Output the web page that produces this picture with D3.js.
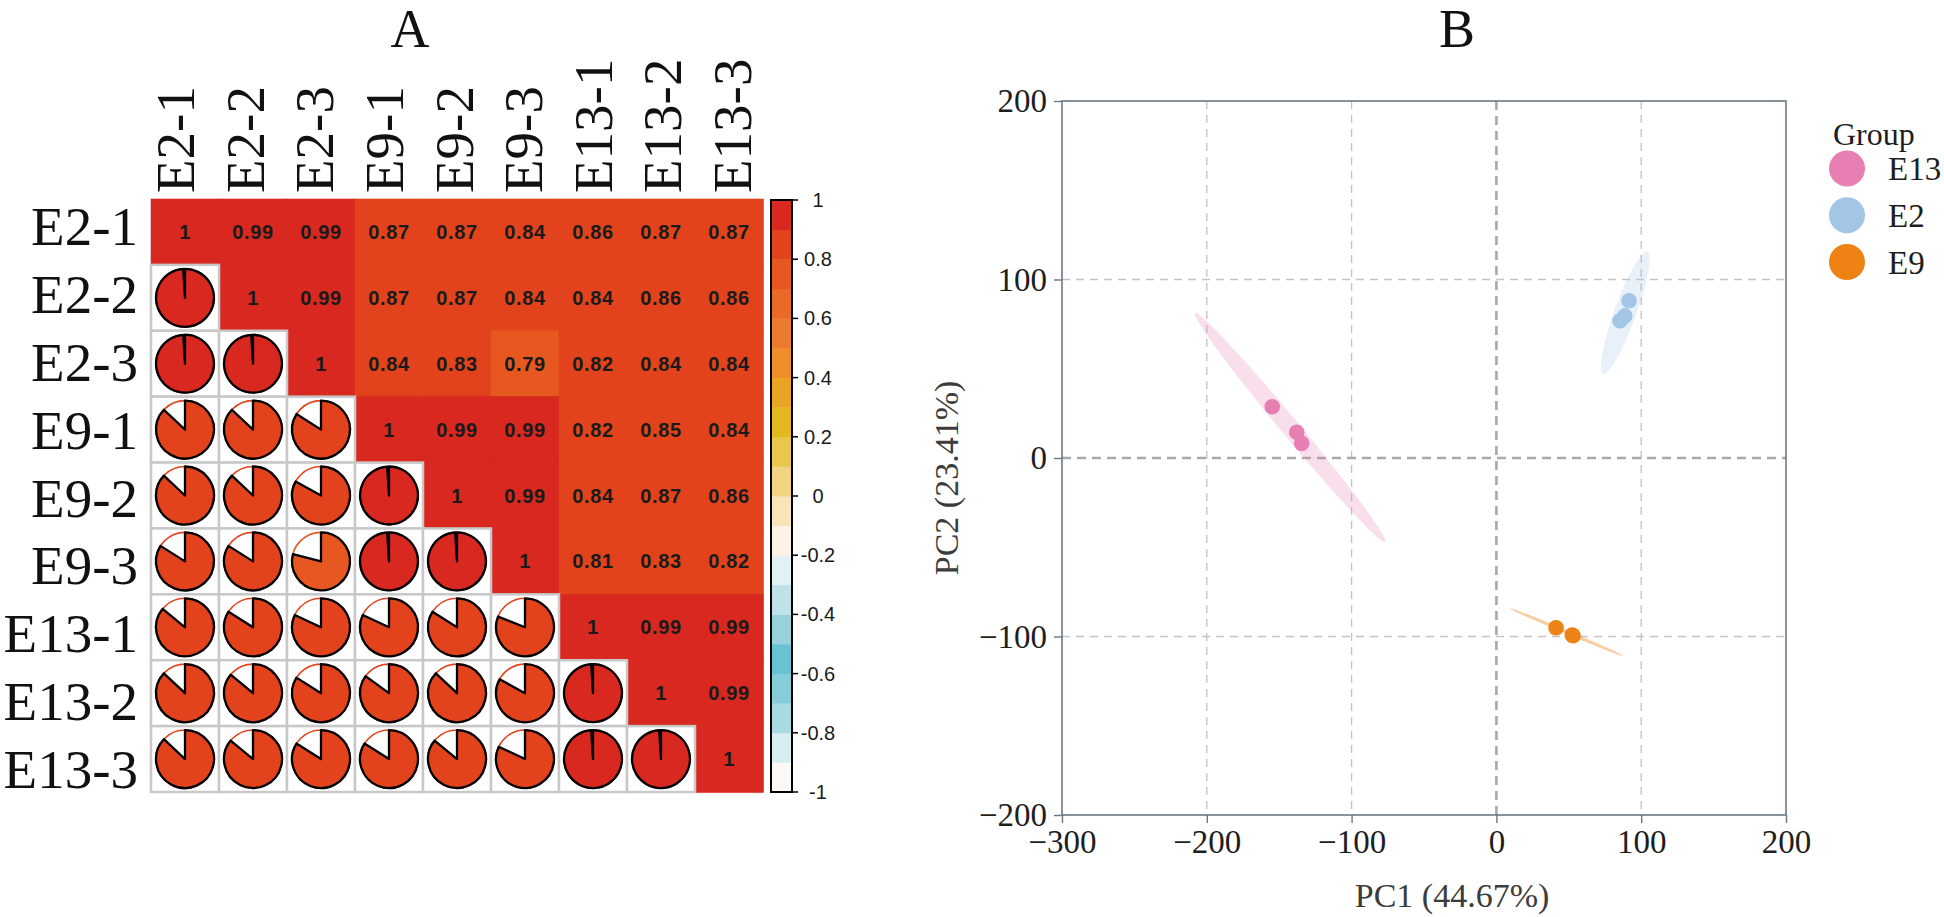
<!DOCTYPE html>
<html>
<head>
<meta charset="utf-8">
<script src="https://cdn.jsdelivr.net/npm/d3@7/dist/d3.min.js"></script>
<style>
  html, body { margin: 0; padding: 0; background: #fff; }
  svg { display: block; }
</style>
</head>
<body>
<svg id="chart" width="1944" height="917"></svg>
<script>
// ---------------- DATA ----------------
const samples = ["E2-1","E2-2","E2-3","E9-1","E9-2","E9-3","E13-1","E13-2","E13-3"];
// upper triangle of the correlation matrix, row i starts at the diagonal
const corrUpper = [
  [1, 0.99, 0.99, 0.87, 0.87, 0.84, 0.86, 0.87, 0.87],
  [1, 0.99, 0.87, 0.87, 0.84, 0.84, 0.86, 0.86],
  [1, 0.84, 0.83, 0.79, 0.82, 0.84, 0.84],
  [1, 0.99, 0.99, 0.82, 0.85, 0.84],
  [1, 0.99, 0.84, 0.87, 0.86],
  [1, 0.81, 0.83, 0.82],
  [1, 0.99, 0.99],
  [1, 0.99],
  [1]
];
const cbTicks = [1, 0.8, 0.6, 0.4, 0.2, 0, -0.2, -0.4, -0.6, -0.8, -1];
const cbTickLabels = ["1", "0.8", "0.6", "0.4", "0.2", "0", "-0.2", "-0.4", "-0.6", "-0.8", "-1"];
// colour bins from -1 to 1, step 0.1
const cbColors = [
  "#FCF8F6", "#D6EDF1", "#A9DAE2", "#85CDD8", "#67C2D1",
  "#97D2DC", "#BEE2E8", "#E2F1F3", "#FDF2E4", "#F9E3B8",
  "#F1D382", "#E8C74A", "#E4B91E", "#EAA424", "#EE8F2C",
  "#EC7B2D", "#E96A28", "#E6581F", "#E2431C", "#D8281F"
];

// PCA
const groups = ["E13", "E2", "E9"];
const pcaSample = ["E13-1","E13-2","E13-3","E2-1","E2-2","E2-3","E9-1","E9-2","E9-3"];
const pcaGroup  = ["E13","E13","E13","E2","E2","E2","E9","E9","E9"];
const pc1 = [-154.8, -137.9, -134.5, 91.6, 88.7, 85.4, 41.2, 52.4, 52.9];
const pc2 = [28.7, 14.4, 8.2, 88.1, 79.6, 76.9, -95.1, -99.2, -99.6];
// confidence ellipses: major-axis end points (PC1, PC2) and minor/major ratio
const ellipseEnd1 = [[-208.1, 81.1], [104.2, 115.6], [9.4, -84.2]];
const ellipseEnd2 = [[-76.9, -46.9], [73.8, 47.4], [87.6, -110.9]];
const ellipseRatio = [0.06, 0.17, 0.03];
const xTicks = [-300, -200, -100, 0, 100, 200];
const yTicks = [-200, -100, 0, 100, 200];

// ---------------- STYLE ----------------
const serif = "'Liberation Serif', 'Times New Roman', serif";
const sans = "'Liberation Sans', Arial, sans-serif";
const groupColors = ["#E77FB3", "#A3C6E7", "#EE8215"];

const svg = d3.select("#chart");

// ================= PANEL A =================
const n = samples.length;
const corr = samples.map(() => new Array(n).fill(null));
corrUpper.forEach((row, i) => row.forEach((v, k) => {
  const j = i + k;
  corr[i][j] = v; corr[j][i] = v;
}));

const xA = d3.scaleBand().domain(samples).range([151, 763]);
const yA = d3.scaleBand().domain(samples).range([199, 792]);
const colorA = d3.scaleQuantize().domain([-1, 1]).range(cbColors);

const gA = svg.append("g");

const cells = [];
for (let i = 0; i < n; i++) for (let j = 0; j < n; j++) {
  cells.push({ r: samples[i], c: samples[j], i, j, v: corr[i][j] });
}
const upper = cells.filter(d => d.j >= d.i);
const lower = cells.filter(d => d.j < d.i);

gA.selectAll("rect.up").data(upper).join("rect")
  .attr("x", d => xA(d.c)).attr("y", d => yA(d.r))
  .attr("width", xA.bandwidth() + 0.5).attr("height", yA.bandwidth() + 0.5)
  .attr("fill", d => colorA(d.v)).attr("stroke", d => colorA(d.v)).attr("stroke-width", 0.6);

gA.selectAll("text.val").data(upper).join("text")
  .attr("x", d => xA(d.c) + xA.bandwidth() / 2)
  .attr("y", d => yA(d.r) + yA.bandwidth() / 2)
  .attr("text-anchor", "middle").attr("dominant-baseline", "central")
  .attr("font-family", sans).attr("font-weight", "bold").attr("font-size", 20)
  .attr("letter-spacing", 0.6)
  .attr("fill", "#1a1a1a")
  .text(d => d3.format("")(d.v));

gA.selectAll("rect.low").data(lower).join("rect")
  .attr("x", d => xA(d.c)).attr("y", d => yA(d.r))
  .attr("width", xA.bandwidth()).attr("height", yA.bandwidth())
  .attr("fill", "#fff").attr("stroke", "#c8c8c8").attr("stroke-width", 2.5);

const pieR = 29;
const arc = d3.arc().innerRadius(0).outerRadius(pieR).startAngle(0);
const pies = gA.selectAll("g.pie").data(lower).join("g")
  .attr("transform", d => `translate(${xA(d.c) + xA.bandwidth() / 2},${yA(d.r) + yA.bandwidth() / 2})`);
pies.append("circle").attr("r", pieR).attr("fill", "#fff")
  .attr("stroke", d => colorA(d.v)).attr("stroke-width", 1.6);
pies.append("path")
  .attr("d", d => arc({ endAngle: 2 * Math.PI * d.v }))
  .attr("fill", d => colorA(d.v)).attr("stroke", "#000").attr("stroke-width", 2.3)
  .attr("stroke-linejoin", "round");

// labels
const rowLab = d3.scalePoint().domain(samples).range([245, 788]);
const colLab = d3.scalePoint().domain(samples).range([194, 751]);
gA.selectAll("text.rl").data(samples).join("text")
  .attr("x", 138).attr("y", d => rowLab(d))
  .attr("text-anchor", "end").attr("font-family", serif).attr("font-size", 55)
  .attr("fill", "#111").text(d => d);
gA.selectAll("text.cl").data(samples).join("text")
  .attr("transform", d => `translate(${colLab(d)},193) rotate(-90)`)
  .attr("text-anchor", "start").attr("font-family", serif).attr("font-size", 55)
  .attr("fill", "#111").text(d => d);

// colour bar
const cbY = d3.scaleLinear().domain([-1, 1]).range([792, 200]);
const cbBins = cbColors.map((c, k) => ({ c, lo: -1 + k * 0.1, hi: -1 + (k + 1) * 0.1 }));
gA.selectAll("rect.cb").data(cbBins).join("rect")
  .attr("x", 771).attr("width", 21)
  .attr("y", d => cbY(d.hi)).attr("height", d => cbY(d.lo) - cbY(d.hi) + 0.4)
  .attr("fill", d => d.c);
gA.append("rect").attr("x", 771).attr("y", cbY(1)).attr("width", 21)
  .attr("height", cbY(-1) - cbY(1)).attr("fill", "none").attr("stroke", "#000").attr("stroke-width", 2);
gA.selectAll("line.cbt").data(cbTicks).join("line")
  .attr("x1", 792).attr("x2", 798).attr("y1", d => cbY(d)).attr("y2", d => cbY(d))
  .attr("stroke", "#000").attr("stroke-width", 1.5);
gA.selectAll("text.cbl").data(cbTicks).join("text")
  .attr("x", 818).attr("y", d => cbY(d)).attr("text-anchor", "middle")
  .attr("dominant-baseline", "central").attr("font-family", sans).attr("font-size", 20)
  .attr("fill", "#1a1a1a").text((d, k) => cbTickLabels[k]);

svg.append("text").attr("x", 410).attr("y", 47).attr("text-anchor", "middle")
  .attr("font-family", serif).attr("font-size", 54).attr("fill", "#111").text("A");

// ================= PANEL B =================
const xB = d3.scaleLinear().domain([-300, 200]).range([1062, 1786]);
const yB = d3.scaleLinear().domain([-200, 200]).range([815, 101]);
const gB = svg.append("g");

// grid
const xGrid = xTicks.slice(1, -1), yGrid = yTicks.slice(1, -1);
gB.selectAll("line.gx").data(xGrid).join("line")
  .attr("x1", d => xB(d)).attr("x2", d => xB(d)).attr("y1", yB(200)).attr("y2", yB(-200))
  .attr("stroke", d => d === 0 ? "#a9a9a9" : "#c4c4c4")
  .attr("stroke-width", d => d === 0 ? 2.6 : 1.3)
  .attr("stroke-dasharray", d => d === 0 ? "9,6" : "8,6");
gB.selectAll("line.gy").data(yGrid).join("line")
  .attr("y1", d => yB(d)).attr("y2", d => yB(d)).attr("x1", xB(-300)).attr("x2", xB(200))
  .attr("stroke", d => d === 0 ? "#a9a9a9" : "#c4c4c4")
  .attr("stroke-width", d => d === 0 ? 2.6 : 1.3)
  .attr("stroke-dasharray", d => d === 0 ? "9,6" : "8,6");

// ellipses
groups.forEach((g, k) => {
  const p1 = [xB(ellipseEnd1[k][0]), yB(ellipseEnd1[k][1])];
  const p2 = [xB(ellipseEnd2[k][0]), yB(ellipseEnd2[k][1])];
  const cx = (p1[0] + p2[0]) / 2, cy = (p1[1] + p2[1]) / 2;
  const a = Math.hypot(p2[0] - p1[0], p2[1] - p1[1]) / 2;
  const ang = Math.atan2(p2[1] - p1[1], p2[0] - p1[0]) * 180 / Math.PI;
  gB.append("ellipse")
    .attr("transform", `translate(${cx},${cy}) rotate(${ang})`)
    .attr("rx", a).attr("ry", a * ellipseRatio[k])
    .attr("fill", groupColors[k]).attr("fill-opacity", g === "E9" ? 0.4 : 0.25);
});

// points
const pts = pcaSample.map((s, k) => ({ s, g: pcaGroup[k], x: pc1[k], y: pc2[k] }));
gB.selectAll("circle.pt").data(pts).join("circle")
  .attr("cx", d => xB(d.x)).attr("cy", d => yB(d.y)).attr("r", 7.8)
  .attr("fill", d => groupColors[groups.indexOf(d.g)]);

// frame
gB.append("rect").attr("x", xB(-300)).attr("y", yB(200))
  .attr("width", xB(200) - xB(-300)).attr("height", yB(-200) - yB(200))
  .attr("fill", "none").attr("stroke", "#62717e").attr("stroke-width", 1.5);

// axes
const axX = gB.append("g").attr("transform", `translate(0,${yB(-200)})`)
  .call(d3.axisBottom(xB).tickValues(xTicks).tickSize(8).tickPadding(7));
const axY = gB.append("g").attr("transform", `translate(${xB(-300)},0)`)
  .call(d3.axisLeft(yB).tickValues(yTicks).tickSize(8).tickPadding(7));
[axX, axY].forEach(ax => {
  ax.select(".domain").remove();
  ax.selectAll(".tick line").attr("stroke", "#6b7783").attr("stroke-width", 1.4);
  ax.selectAll(".tick text").attr("font-family", serif).attr("font-size", 33).attr("fill", "#1e1e1e");
});

gB.append("text").attr("x", 1452).attr("y", 907).attr("text-anchor", "middle")
  .attr("font-family", serif).attr("font-size", 34).attr("fill", "#3c3c3c").text("PC1 (44.67%)");
gB.append("text").attr("transform", "translate(958,478) rotate(-90)").attr("text-anchor", "middle")
  .attr("font-family", serif).attr("font-size", 34).attr("fill", "#3c3c3c").text("PC2 (23.41%)");

// legend
const lg = gB.append("g");
lg.append("text").attr("x", 1833).attr("y", 145).attr("font-family", serif)
  .attr("font-size", 32).attr("fill", "#1e1e1e").text("Group");
const legY = d3.scalePoint().domain(groups).range([168.5, 262]);
lg.selectAll("circle").data(groups).join("circle")
  .attr("cx", 1847).attr("cy", d => legY(d)).attr("r", 18)
  .attr("fill", (d, k) => groupColors[k]);
lg.selectAll("text.li").data(groups).join("text")
  .attr("x", 1888).attr("y", d => legY(d) + 11.5).attr("font-family", serif)
  .attr("font-size", 33).attr("fill", "#1e1e1e").text(d => d);

svg.append("text").attr("x", 1457).attr("y", 47).attr("text-anchor", "middle")
  .attr("font-family", serif).attr("font-size", 54).attr("fill", "#111").text("B");
</script>
</body>
</html>
